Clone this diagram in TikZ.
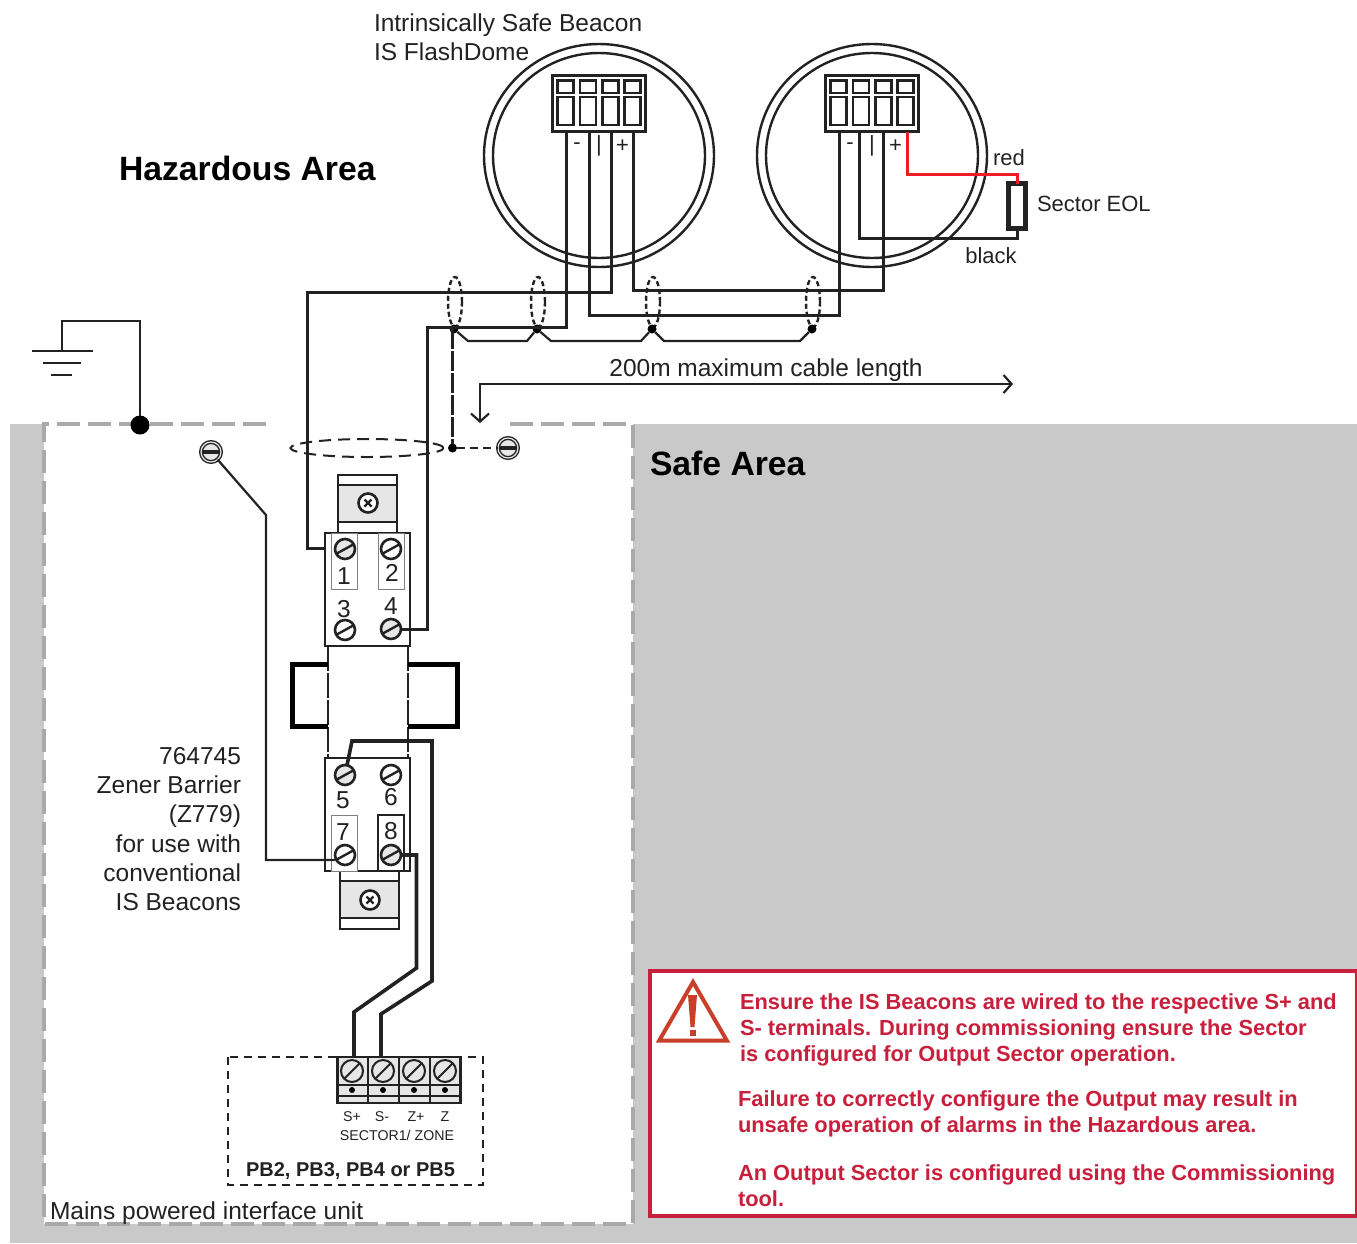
\documentclass[tikz,border=0pt]{standalone}
\usepackage{fontspec}
\setmainfont{Liberation Sans}
\usetikzlibrary{arrows.meta,shapes.geometric}

\definecolor{safegray}{HTML}{C9C9C9}
\definecolor{edgegray}{HTML}{A9A9A9}
\definecolor{lightgray}{HTML}{E6E6E6}
\definecolor{wirered}{HTML}{EE1C25}
\definecolor{warnred}{HTML}{C8203C}
\definecolor{warnorange}{HTML}{C9402A}
\definecolor{ink}{HTML}{222222}

\begin{document}
\begin{tikzpicture}[
  x=1pt,
  y=-1pt,
  inner sep=0pt,
  outer sep=0pt,
  wire/.style={
    draw=ink,
    line width=3pt
  },
  thin wire/.style={
    draw=ink,
    line width=2.2pt
  },
  red wire/.style={
    draw=wirered,
    line width=3pt
  },
  lbl/.style={
    text=ink,
    font=\fontsize{24.5}{29.3}\selectfont,
    align=left
  },
  small lbl/.style={
    text=ink,
    font=\fontsize{22}{26}\selectfont
  },
  tiny lbl/.style={
    text=ink,
    font=\fontsize{14.2}{17}\selectfont
  },
  warn/.style={
    text=warnred,
    font=\fontsize{21.85}{26}\selectfont\bfseries,
    align=left,
    anchor=north west
  },
  screw/.style={
    circle,
    draw=ink,
    line width=2.6pt,
    minimum size=20pt,
    fill=white,
    path picture={
      \draw [ink,line width=2.4pt]
        ([shift={(-10,5.5)}]path picture bounding box.center) -- ([shift={(10,-5.5)}]path picture bounding box.center);
    }
  },
  gray screw/.style={
    screw,
    fill=lightgray
  },
  term screw/.style={
    circle,
    draw=ink,
    line width=2pt,
    minimum size=22pt,
    fill=lightgray,
    path picture={
      \draw [ink,line width=2pt]
        (path picture bounding box.south west) -- (path picture bounding box.north east);
    }
  },
  cross screw/.style={
    circle,
    draw=ink,
    line width=2.6pt,
    minimum size=19pt,
    fill=white,
    path picture={
      \draw [ink,line width=2.4pt]
        ([shift={(-3.5,-3.5)}]path picture bounding box.center) -- ([shift={(3.5,3.5)}]path picture bounding box.center)
        ([shift={(-3.5,3.5)}]path picture bounding box.center) -- ([shift={(3.5,-3.5)}]path picture bounding box.center);
    }
  },
  earth screw/.style={
    circle,
    draw=ink,
    double=lightgray,
    double distance=1.2pt,
    line width=1.4pt,
    minimum size=20pt,
    fill=lightgray,
    path picture={
      \draw [ink,line width=3.5pt]
        (path picture bounding box.west) -- (path picture bounding box.east);
    }
  },
  dome/.style n args={2}{
    ellipse,
    draw=ink,
    line width=2.4pt,
    minimum width=#1,
    minimum height=#2
  },
  box/.style={
    rectangle,
    draw=ink,
    line width=2pt,
    fill=white
  },
  num box/.style={
    rectangle,
    draw=gray,
    line width=1pt,
    fill=white,
    minimum width=26pt,
    minimum height=56pt
  },
  dot/.style={
    circle,
    fill=black,
    minimum size=#1
  },
  screen/.style={
    ellipse,
    draw=ink,
    line width=2.4pt,
    dash pattern=on 5pt off 3pt,
    minimum width=14pt,
    minimum height=50pt
  }
  ]
  \useasboundingbox (0,0) rectangle (1357,1243);

  % areas
  \fill [safegray] (10,424) rectangle (1357,1243);
  \fill [white] (44,424) rectangle (633,1224);
  \draw [edgegray,line width=4pt,dash pattern=on 23pt off 8pt]
    (266,424) -- (44,424) -- (44,1224) -- (633,1224) -- (633,424) -- (508,424);

  % beacons
  \foreach \name/\x in {one/599,two/872} {
    \node (\name-outer) [dome={230pt}{223pt}] at (\x,155.5) {};
    \node (\name-inner) [dome={212pt}{205pt}] at (\x,155.5) {};
    \node (\name-block) [box,line width=2.6pt,minimum width=93pt,minimum height=56pt] at (\x,103.5) {};
    \foreach \dx in {-33.5,-11,11.5,33.5} {
      \draw [ink,line width=2.6pt] (\x+\dx-8,80.5) rectangle (\x+\dx+8,93);
      \draw [ink,line width=2.6pt] (\x+\dx-8,97) rectangle (\x+\dx+8,125);
    }
    \node (\name-minus) [small lbl] at (\x-22,146) {-};
    \node (\name-bar) [small lbl] at (\x,146) {|};
    \node (\name-plus) [small lbl] at (\x+23.5,146) {+};
  }
  \coordinate (one-a) at (566,132);
  \coordinate (one-b) at (589,132);
  \coordinate (one-c) at (611,132);
  \coordinate (one-d) at (633,132);
  \coordinate (two-a) at (839,132);
  \coordinate (two-b) at (859,132);
  \coordinate (two-c) at (883,132);
  \coordinate (two-d) at (907,132);

  % end of line
  \node (eol) [box,line width=5pt,minimum width=17pt,minimum height=45pt] at (1017,206) {};
  \draw [red wire] (two-d) |- (eol.north |- 0,174) -- (eol.north);
  \draw [wire] (two-b) |- (eol.south |- 0,238) -- (eol.south);

  % barrier
  \draw [ink,line width=2pt,dash pattern=on 25pt off 2pt] (328,646) -- (328,758);
  \draw [ink,line width=2pt,dash pattern=on 25pt off 2pt] (408,646) -- (408,758);
  \draw [black,line width=5pt] (328,664) -- (292,664) -- (292,726) -- (328,726);
  \draw [black,line width=5pt] (408,664) -- (457,664) -- (457,726) -- (408,726);

  \node (top-clip) [box,minimum width=59pt,minimum height=58pt] at (367.5,504) {};
  \node (top-plate) [box,fill=lightgray,minimum width=59pt,minimum height=37pt] at (367.5,503.5) {};
  \node (top-screw) [cross screw] at (368,503) {};
  \node (bottom-clip) [box,minimum width=59pt,minimum height=58pt] at (369.5,900) {};
  \node (bottom-plate) [box,fill=lightgray,minimum width=59pt,minimum height=37pt] at (369.5,899.5) {};
  \node (bottom-screw) [cross screw] at (370,900) {};

  \node (upper) [box,line width=2.4pt,minimum width=85pt,minimum height=113pt] at (367.5,589.5) {};
  \node (lower) [box,line width=2.4pt,minimum width=85pt,minimum height=113pt] at (367.5,814.5) {};
  \node (box-1) [num box] at (344,561) {};
  \node (box-2) [num box] at (391,561) {};
  \node (box-7) [num box] at (344,843) {};
  \node (box-8) [num box,draw=ink,line width=1.5pt] at (391,843) {};

  \node (screw-1) [gray screw] at (345,549) {};
  \node (screw-2) [screw] at (391,549) {};
  \node (screw-3) [screw] at (345,630) {};
  \node (screw-4) [gray screw] at (391,629) {};
  \node (screw-5) [gray screw] at (345,775) {};
  \node (screw-6) [screw] at (391,775) {};
  \node (screw-7) [screw] at (345,855) {};
  \node (screw-8) [gray screw] at (391,855) {};

  \node (num-1) [lbl] at (344,576) {1};
  \node (num-2) [lbl] at (392,573) {2};
  \node (num-3) [lbl] at (344,609) {3};
  \node (num-4) [lbl] at (391,606) {4};
  \node (num-5) [lbl] at (343,800) {5};
  \node (num-6) [lbl] at (391,797) {6};
  \node (num-7) [lbl] at (343,832) {7};
  \node (num-8) [lbl] at (391,831) {8};

  % cable screens
  \node (screen-a) [screen] at (455,302) {};
  \node (screen-b) [screen] at (538,302) {};
  \node (screen-c) [screen] at (653,302) {};
  \node (screen-d) [screen] at (813,302) {};
  \node (screen-e) [ellipse,draw=ink,line width=2pt,dash pattern=on 12pt off 7pt,minimum width=153pt,minimum height=18pt] at (367,448) {};
  \node (dot-a) [dot=9pt] at (454,329) {};
  \node (dot-b) [dot=9pt] at (537,329) {};
  \node (dot-c) [dot=9pt] at (652,329) {};
  \node (dot-d) [dot=9pt] at (812,329) {};
  \node (dot-e) [dot=9pt] at (452.5,448) {};

  \draw [thin wire] (dot-a) -- (468,341) -- (527,341) -- (dot-b);
  \draw [thin wire] (dot-b) -- (551,341) -- (641,341) -- (dot-c);
  \draw [thin wire] (dot-c) -- (664,341) -- (800,341) -- (dot-d);

  % earth
  \node (earth-dot) [dot=19pt] at (140,425) {};
  \coordinate (earth-top) at (62,351);
  \draw [thin wire] (earth-dot) |- (earth-top |- 0,321) -- (earth-top);
  \draw [thin wire] (32,351) -- (93,351);
  \draw [thin wire] (43,363) -- (81,363);
  \draw [thin wire] (51,375) -- (72,375);

  \node (earth-left) [earth screw] at (211,452) {};
  \node (earth-right) [earth screw] at (508,448) {};
  \draw [thin wire] (earth-left) -- (266,515) |- (screw-7.west |- 0,860);
  \draw [thin wire,dash pattern=on 20pt off 2pt] (dot-e |- dot-a) -- (dot-e);
  \draw [thin wire,dash pattern=on 8pt off 5pt] (dot-e) -- (earth-right);

  % wires
  \draw [wire] (one-a) |- (427.5,327) |- (screw-4);
  \draw [wire] (one-c) |- (307,292) |- (upper.west |- 0,548);
  \draw [wire] (one-b) |- (two-a |- 0,315.5) -- (two-a);
  \draw [wire] (one-d) |- (two-c |- 0,290.5) -- (two-c);

  % interface unit
  \draw [thin wire,dash pattern=on 8pt off 6pt] (228,1057) rectangle (483,1185);
  \node (term) [box,fill=lightgray,line width=2.4pt,minimum width=123pt,minimum height=46pt] at (399,1080) {};
  \draw [ink,line width=2pt] (337.5,1084.5) -- (460.5,1084.5);
  \draw [ink,line width=2pt] (337.5,1096) -- (460.5,1096);
  \foreach \x in {368,399,430} {
    \draw [ink,line width=1.5pt] (\x,1057) -- (\x,1103);
  }
  \foreach \name/\x in {sp/352,sm/383,zp/414,zm/445} {
    \node (\name-screw) [term screw] at (\x,1071) {};
    \node (\name-dot) [dot=6pt] at (\x,1090) {};
  }
  \coordinate (sp-in) at (354,1057);
  \coordinate (sm-in) at (381,1057);
  \draw [wire,line width=3.6pt] (screw-5) -- (352,741) -| (432,981) -- (sm-in |- 0,1014) -- (sm-in);
  \draw [wire,line width=3.6pt] (screw-8) -| (416.5,968) -- (sp-in |- 0,1012) -- (sp-in);

  % labels
  \node (beacon-lbl) [lbl,anchor=north west] at (374,13.5) {Intrinsically Safe Beacon\\IS FlashDome};
  \node (hazard-lbl) [anchor=west,text=black,font=\fontsize{33.7}{40}\selectfont\bfseries] at (119,168) {Hazardous Area};
  \node (safe-lbl) [anchor=west,text=black,font=\fontsize{33.7}{40}\selectfont\bfseries] at (650,463) {Safe Area};
  \node (red-lbl) [small lbl] at (1009,158) {red};
  \node (eol-lbl) [small lbl,anchor=west] at (1037,204) {Sector EOL};
  \node (black-lbl) [small lbl] at (991,256) {black};
  \node (cable-lbl) [lbl] at (766,370) {200m maximum cable length};
  \coordinate (cable-left) at (480,423);
  \coordinate (cable-right) at (1013,384);
  \draw [thin wire,{Straight Barb[length=8pt,width=18pt]}-{Straight Barb[length=8pt,width=18pt]}] (cable-left) |- (cable-right);
  \node (barrier-lbl) [lbl,align=right,anchor=north east] at (241,747) {764745\\Zener Barrier\\(Z779)\\for use with\\conventional\\IS Beacons};
  \node (mains-lbl) [lbl,anchor=west] at (50,1213) {Mains powered interface unit};
  \node (sp-lbl) [tiny lbl] at (352,1117) {S+};
  \node (sm-lbl) [tiny lbl] at (382,1117) {S-};
  \node (zp-lbl) [tiny lbl] at (416,1117) {Z+};
  \node (zm-lbl) [tiny lbl] at (445,1117) {Z};
  \node (sector-lbl) [tiny lbl] at (397,1135) {SECTOR1/ ZONE};
  \node (pb-lbl) [anchor=center,text=ink,font=\fontsize{20}{24}\selectfont\bfseries] at (350.5,1171) {PB2, PB3, PB4 or PB5};

  % warning
  \node (warn-box) [rectangle,draw=warnred,line width=4pt,fill=white,minimum width=707pt,minimum height=245pt] at (1003.5,1093.5) {};
  \node (warn-tri) [regular polygon,regular polygon sides=3,draw=warnorange,line width=4pt,fill=white,minimum size=78pt] at (693,1021) {};
  \fill [warnorange] (688,995) -- (697,995) -- (694.5,1027) -- (690.5,1027) -- cycle;
  \fill [warnorange] (689.5,1030) rectangle (695.5,1036);
  \node (warn-one) [warn] at (740,994) {Ensure the IS Beacons are wired to the respective S+ and\\S- terminals. During commissioning ensure the Sector\\is configured for Output Sector operation.};
  \node (warn-two) [warn] at (738,1091) {Failure to correctly configure the Output may result in\\unsafe operation of alarms in the Hazardous area.};
  \node (warn-three) [warn] at (738,1165) {An Output Sector is configured using the Commissioning\\tool.};
\end{tikzpicture}
\end{document}
